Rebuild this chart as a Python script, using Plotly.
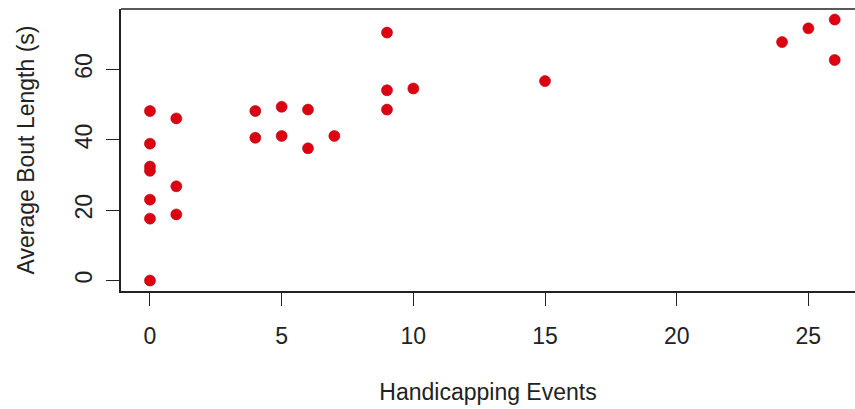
import plotly.graph_objects as go

handicapping_events = [0, 0, 0, 0, 0, 0, 0,
                       1, 1, 1,
                       4, 4, 5, 5, 6, 6, 7,
                       9, 9, 9, 10, 15,
                       24, 25, 26, 26]
avg_bout_length = [48.2, 38.9, 32.4, 31.2, 23.0, 17.6, 0.0,
                   46.1, 26.8, 18.8,
                   48.2, 40.6, 49.4, 41.1, 48.6, 37.6, 41.1,
                   70.5, 54.1, 48.6, 54.6, 56.7,
                   67.8, 71.7, 74.2, 62.7]

x_ticks = [0, 5, 10, 15, 20, 25]
y_ticks = [0, 20, 40, 60]

FONT = "Liberation Sans, Arial, sans-serif"
INK = "#222222"

fig = go.Figure(
    go.Scatter(
        x=handicapping_events,
        y=avg_bout_length,
        mode="markers",
        marker=dict(size=11, color="#DD0010",
                    line=dict(width=0.6, color="#B00010")),
        hoverinfo="x+y",
    )
)

fig.update_layout(
    width=855, height=409,
    margin=dict(l=121, r=0, t=9, b=118),
    paper_bgcolor="white", plot_bgcolor="white",
    showlegend=False,
    font=dict(family=FONT, size=23, color=INK),
    shapes=[dict(type="line", xref="paper", yref="paper",
                 x0=0, x1=1, y0=1, y1=1,
                 line=dict(color=INK, width=1.5))],
)

fig.update_xaxes(
    range=[-1.1, 26.77],
    tickvals=x_ticks, ticktext=[str(v) for v in x_ticks],
    ticks="outside", ticklen=13, tickwidth=1.3, tickcolor=INK,
    showline=True, linecolor=INK, linewidth=1.5,
    showgrid=False, zeroline=False,
    ticklabelstandoff=11,
    title=dict(text="Handicapping Events", standoff=36,
               font=dict(size=23, family=FONT, color=INK)),
)
fig.update_yaxes(
    range=[-2.97, 77.2],
    tickvals=y_ticks, ticktext=[str(v) for v in y_ticks],
    tickangle=-90,
    ticks="outside", ticklen=13, tickwidth=1.3, tickcolor=INK,
    showline=True, linecolor=INK, linewidth=1.5,
    showgrid=False, zeroline=False,
    ticklabelstandoff=5,
    title=dict(text="Average Bout Length (s)", standoff=30,
               font=dict(size=23, family=FONT, color=INK)),
)

fig.write_html("out.html")
